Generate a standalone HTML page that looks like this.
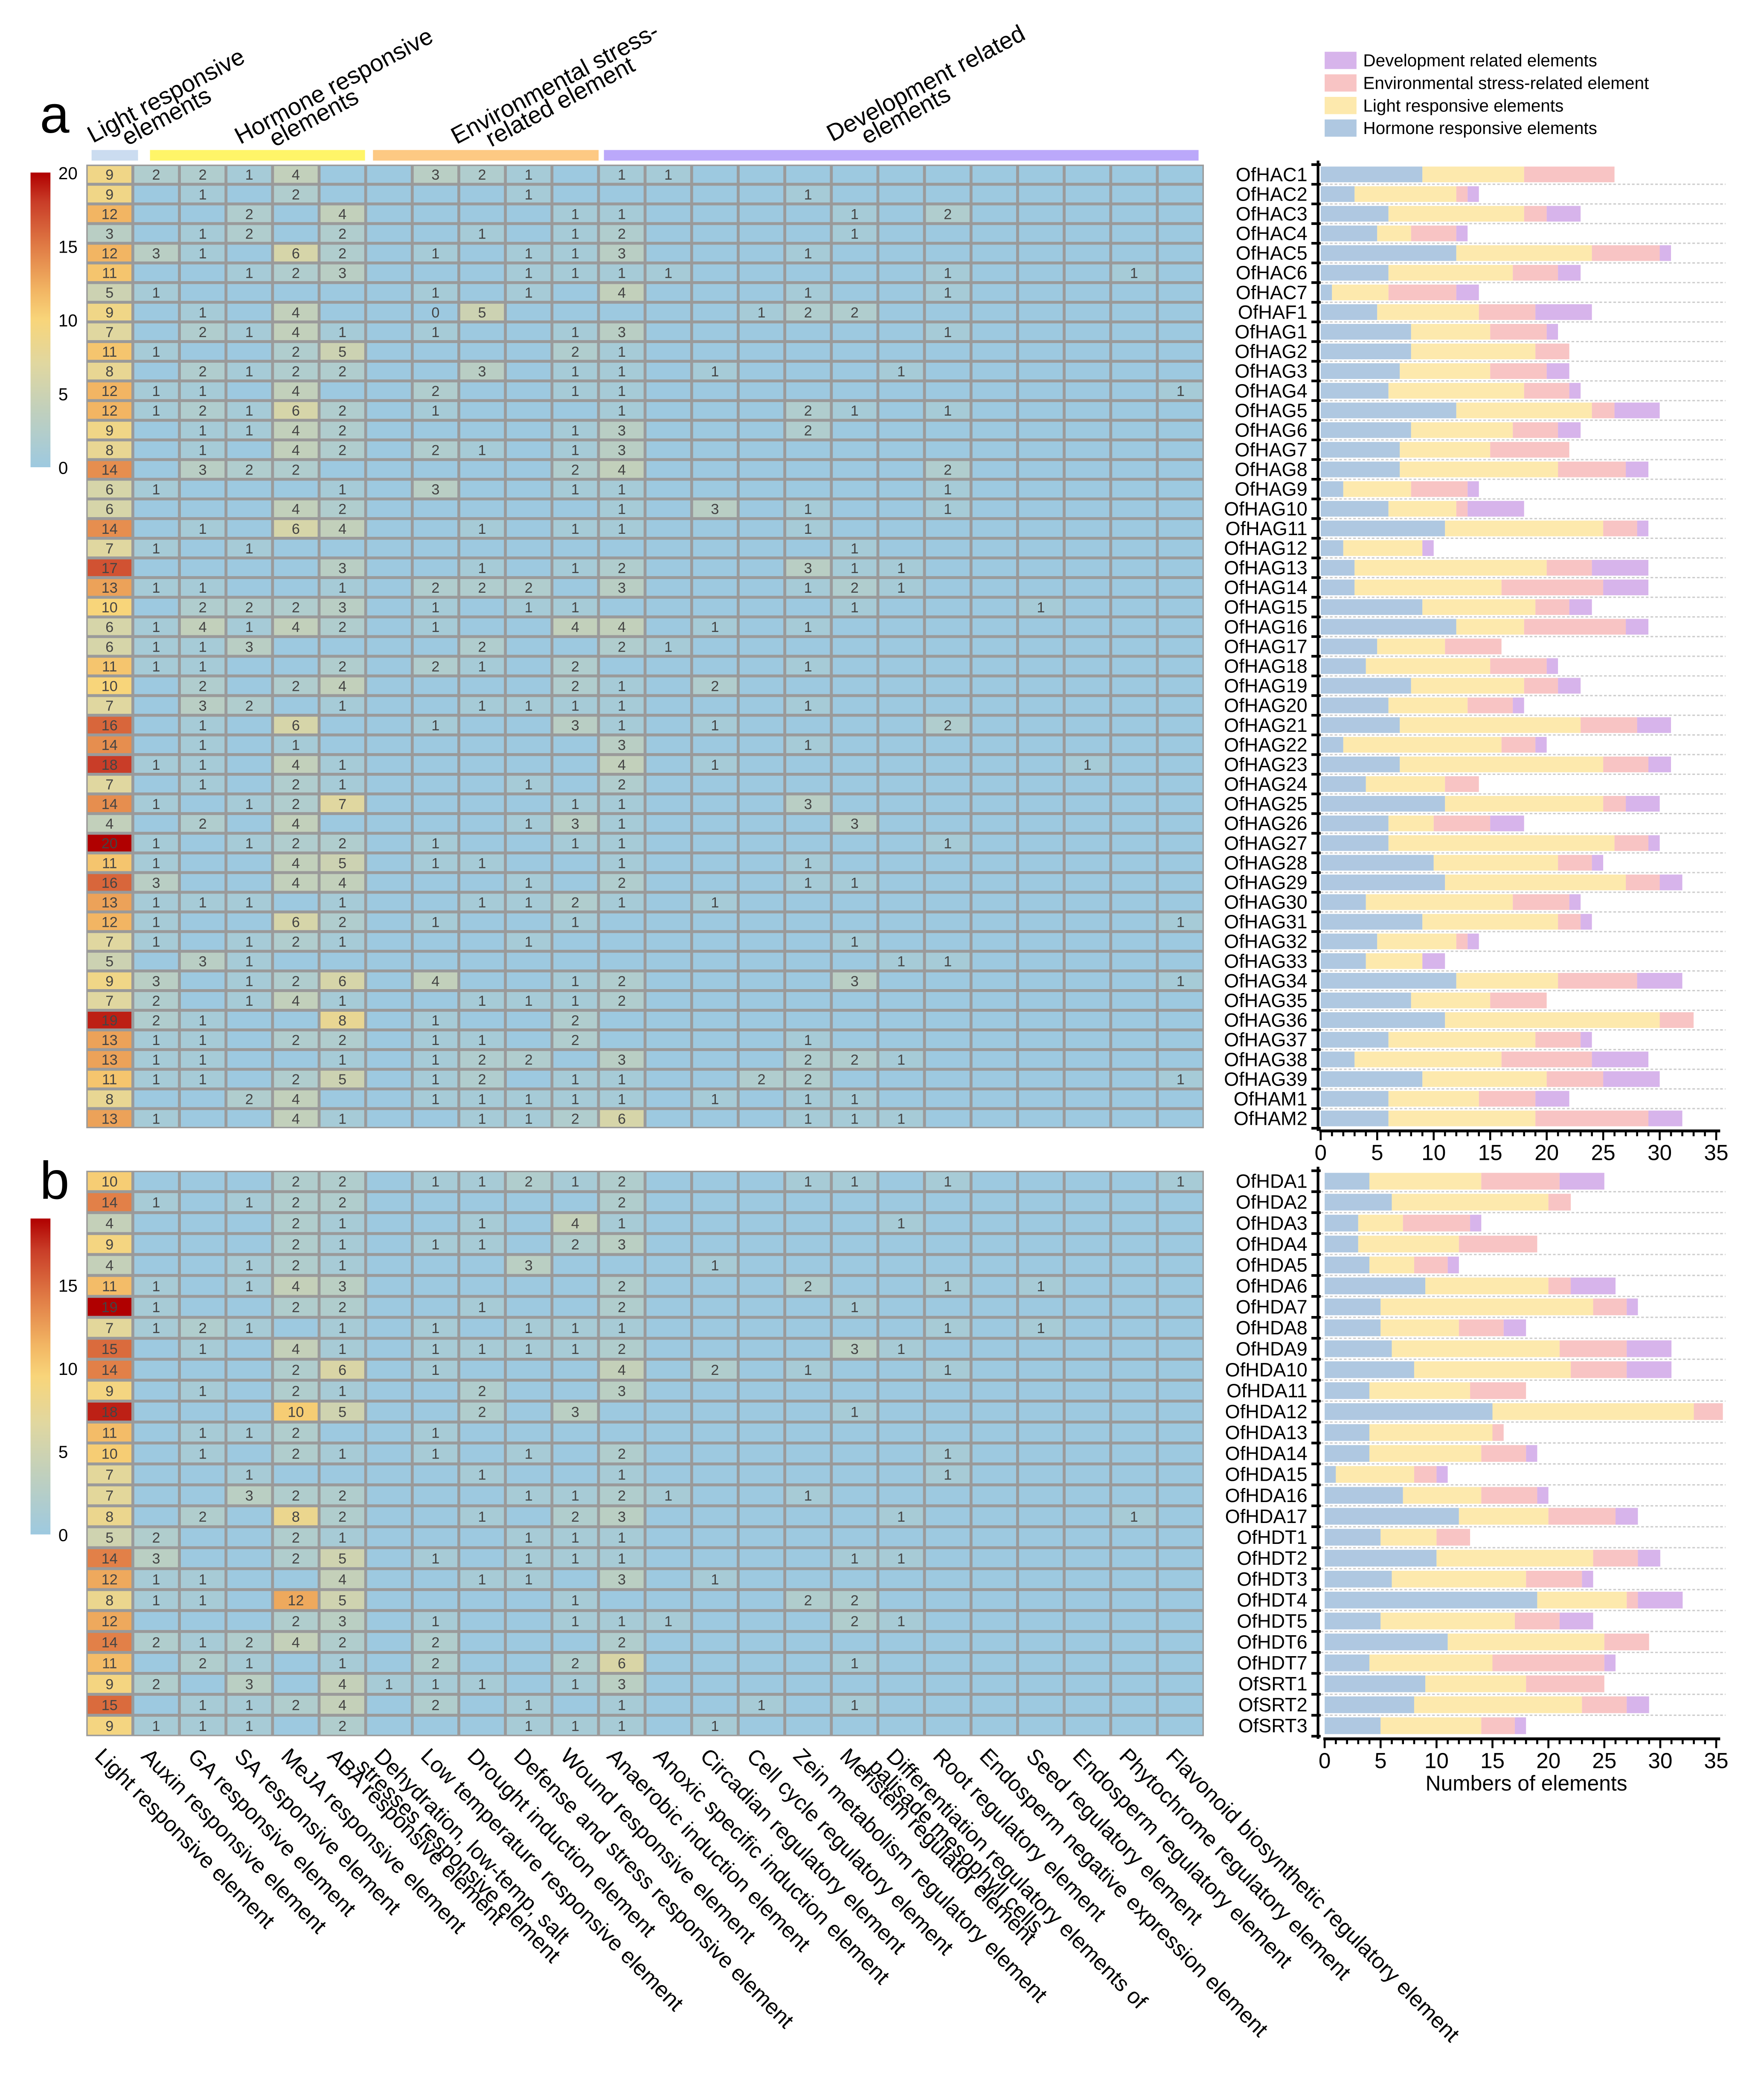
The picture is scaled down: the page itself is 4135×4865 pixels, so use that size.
<!DOCTYPE html>
<html><head><meta charset="utf-8"><style>
html,body{margin:0;padding:0;background:#fff;}
svg{display:block;font-family:"Liberation Sans",sans-serif;}
</style></head><body>
<svg id="fig" xmlns="http://www.w3.org/2000/svg" width="4135" height="4865" viewBox="0 0 1329 1564" preserveAspectRatio="none">
<defs>
<linearGradient id="cbar" x1="0" y1="1" x2="0" y2="0">
<stop offset="0" stop-color="#9dc9e0"/><stop offset="0.2" stop-color="#c2d0bb"/><stop offset="0.35" stop-color="#e0d7a0"/><stop offset="0.5" stop-color="#f8d57a"/><stop offset="0.6" stop-color="#f2b563"/><stop offset="0.75" stop-color="#e07b45"/><stop offset="0.9" stop-color="#c93d28"/><stop offset="1" stop-color="#b00000"/>
</linearGradient>
</defs>
<g id="root"></g>
</svg>
<script>
const columns=["Light responsive element","Auxin responsive element","GA responsive element","SA responsive element","MeJA responsive element","ABA responsive element","Dehydration, low-temp, salt|stresses responsive element","Low temperature responsive element","Drought induction element","Defense and stress responsive element","Wound responsive element","Anaerobic induction element","Anoxic specific induction element","Circadian regulatory element","Cell cycle regulatory element","Zein metabolism regulatory element","Meristem regulator element","Differentiation regulatory elements of|palisade mesophyll cells","Root regulatory element","Endosperm negative expression element","Seed regulatory element","Endosperm regulatory element","Phytochrome  regulatory element","Flavonoid biosynthetic regulatory element"];
const groupOf=[0,1,1,1,1,1,2,2,2,2,2,2,2,3,3,3,3,3,3,3,3,3,3,3];
const genesA=["OfHAC1","OfHAC2","OfHAC3","OfHAC4","OfHAC5","OfHAC6","OfHAC7","OfHAF1","OfHAG1","OfHAG2","OfHAG3","OfHAG4","OfHAG5","OfHAG6","OfHAG7","OfHAG8","OfHAG9","OfHAG10","OfHAG11","OfHAG12","OfHAG13","OfHAG14","OfHAG15","OfHAG16","OfHAG17","OfHAG18","OfHAG19","OfHAG20","OfHAG21","OfHAG22","OfHAG23","OfHAG24","OfHAG25","OfHAG26","OfHAG27","OfHAG28","OfHAG29","OfHAG30","OfHAG31","OfHAG32","OfHAG33","OfHAG34","OfHAG35","OfHAG36","OfHAG37","OfHAG38","OfHAG39","OfHAM1","OfHAM2"];
const rowsA=["0:9,1:2,2:2,3:1,4:4,7:3,8:2,9:1,11:1,12:1","0:9,2:1,4:2,9:1,15:1","0:12,3:2,5:4,10:1,11:1,16:1,18:2","0:3,2:1,3:2,5:2,8:1,10:1,11:2,16:1","0:12,1:3,2:1,4:6,5:2,7:1,9:1,10:1,11:3,15:1","0:11,3:1,4:2,5:3,9:1,10:1,11:1,12:1,18:1,22:1","0:5,1:1,7:1,9:1,11:4,15:1,18:1","0:9,2:1,4:4,7:0,8:5,14:1,15:2,16:2","0:7,2:2,3:1,4:4,5:1,7:1,10:1,11:3,18:1","0:11,1:1,4:2,5:5,10:2,11:1","0:8,2:2,3:1,4:2,5:2,8:3,10:1,11:1,13:1,17:1","0:12,1:1,2:1,4:4,7:2,10:1,11:1,23:1","0:12,1:1,2:2,3:1,4:6,5:2,7:1,11:1,15:2,16:1,18:1","0:9,2:1,3:1,4:4,5:2,10:1,11:3,15:2","0:8,2:1,4:4,5:2,7:2,8:1,10:1,11:3","0:14,2:3,3:2,4:2,10:2,11:4,18:2","0:6,1:1,5:1,7:3,10:1,11:1,18:1","0:6,4:4,5:2,11:1,13:3,15:1,18:1","0:14,2:1,4:6,5:4,8:1,10:1,11:1,15:1","0:7,1:1,3:1,16:1","0:17,5:3,8:1,10:1,11:2,15:3,16:1,17:1","0:13,1:1,2:1,5:1,7:2,8:2,9:2,11:3,15:1,16:2,17:1","0:10,2:2,3:2,4:2,5:3,7:1,9:1,10:1,16:1,20:1","0:6,1:1,2:4,3:1,4:4,5:2,7:1,10:4,11:4,13:1,15:1","0:6,1:1,2:1,3:3,8:2,11:2,12:1","0:11,1:1,2:1,5:2,7:2,8:1,10:2,15:1","0:10,2:2,4:2,5:4,10:2,11:1,13:2","0:7,2:3,3:2,5:1,8:1,9:1,10:1,11:1,15:1","0:16,2:1,4:6,7:1,10:3,11:1,13:1,18:2","0:14,2:1,4:1,11:3,15:1","0:18,1:1,2:1,4:4,5:1,11:4,13:1,21:1","0:7,2:1,4:2,5:1,9:1,11:2","0:14,1:1,3:1,4:2,5:7,10:1,11:1,15:3","0:4,2:2,4:4,9:1,10:3,11:1,16:3","0:20,1:1,3:1,4:2,5:2,7:1,10:1,11:1,18:1","0:11,1:1,4:4,5:5,7:1,8:1,11:1,15:1","0:16,1:3,4:4,5:4,9:1,11:2,15:1,16:1","0:13,1:1,2:1,3:1,5:1,8:1,9:1,10:2,11:1,13:1","0:12,1:1,4:6,5:2,7:1,10:1,23:1","0:7,1:1,3:1,4:2,5:1,9:1,16:1","0:5,2:3,3:1,17:1,18:1","0:9,1:3,3:1,4:2,5:6,7:4,10:1,11:2,16:3,23:1","0:7,1:2,3:1,4:4,5:1,8:1,9:1,10:1,11:2","0:19,1:2,2:1,5:8,7:1,10:2","0:13,1:1,2:1,4:2,5:2,7:1,8:1,10:2,15:1","0:13,1:1,2:1,5:1,7:1,8:2,9:2,11:3,15:2,16:2,17:1","0:11,1:1,2:1,4:2,5:5,7:1,8:2,10:1,11:1,14:2,15:2,23:1","0:8,3:2,4:4,7:1,8:1,9:1,10:1,11:1,13:1,15:1,16:1","0:13,1:1,4:4,5:1,8:1,9:1,10:2,11:6,15:1,16:1,17:1"];
const genesB=["OfHDA1","OfHDA2","OfHDA3","OfHDA4","OfHDA5","OfHDA6","OfHDA7","OfHDA8","OfHDA9","OfHDA10","OfHDA11","OfHDA12","OfHDA13","OfHDA14","OfHDA15","OfHDA16","OfHDA17","OfHDT1","OfHDT2","OfHDT3","OfHDT4","OfHDT5","OfHDT6","OfHDT7","OfSRT1","OfSRT2","OfSRT3"];
const rowsB=["0:10,4:2,5:2,7:1,8:1,9:2,10:1,11:2,15:1,16:1,18:1,23:1","0:14,1:1,3:1,4:2,5:2,11:2","0:4,4:2,5:1,8:1,10:4,11:1,17:1","0:9,4:2,5:1,7:1,8:1,10:2,11:3","0:4,3:1,4:2,5:1,9:3,13:1","0:11,1:1,3:1,4:4,5:3,11:2,15:2,18:1,20:1","0:19,1:1,4:2,5:2,8:1,11:2,16:1","0:7,1:1,2:2,3:1,5:1,7:1,9:1,10:1,11:1,18:1,20:1","0:15,2:1,4:4,5:1,7:1,8:1,9:1,10:1,11:2,16:3,17:1","0:14,4:2,5:6,7:1,11:4,13:2,15:1,18:1","0:9,2:1,4:2,5:1,8:2,11:3","0:18,4:10,5:5,8:2,10:3,16:1","0:11,2:1,3:1,4:2,7:1","0:10,2:1,4:2,5:1,7:1,9:1,11:2,18:1","0:7,3:1,8:1,11:1,18:1","0:7,3:3,4:2,5:2,9:1,10:1,11:2,12:1,15:1","0:8,2:2,4:8,5:2,8:1,10:2,11:3,17:1,22:1","0:5,1:2,4:2,5:1,9:1,10:1,11:1","0:14,1:3,4:2,5:5,7:1,9:1,10:1,11:1,16:1,17:1","0:12,1:1,2:1,5:4,8:1,9:1,11:3,13:1","0:8,1:1,2:1,4:12,5:5,10:1,15:2,16:2","0:12,4:2,5:3,7:1,10:1,11:1,12:1,16:2,17:1","0:14,1:2,2:1,3:2,4:4,5:2,7:2,11:2","0:11,2:2,3:1,5:1,7:2,10:2,11:6,16:1","0:9,1:2,3:3,5:4,6:1,7:1,8:1,10:1,11:3","0:15,2:1,3:1,4:2,5:4,7:2,9:1,11:1,14:1,16:1","0:9,1:1,2:1,3:1,5:2,9:1,10:1,11:1,13:1"];
const xTicks=[0,5,10,15,20,25,30,35];
const cbTicksA=[0,5,10,15,20];
const cbTicksB=[0,5,10,15];
const barColors=["#fde9ad","#afc8e1","#f8c4c4","#d7b4eb"]; // light, hormone, env, dev
const legendLabels=["Development related elements","Environmental stress-related element","Light responsive elements","Hormone responsive elements"];

const NS="http://www.w3.org/2000/svg";
const root=document.getElementById('root');
function mk(tag,attrs,parent,text){const e=document.createElementNS(NS,tag);for(const k in attrs)e.setAttribute(k,attrs[k]);if(text!==undefined)e.textContent=text;(parent||root).appendChild(e);return e;}
function parse(s){const v=new Array(24).fill(null);s.split(',').forEach(p=>{const [c,x]=p.split(':');v[+c]=+x;});return v;}
const stops=[[0,[157,201,224]],[0.2,[194,208,187]],[0.35,[224,215,160]],[0.5,[248,213,122]],[0.6,[242,181,99]],[0.75,[224,123,69]],[0.9,[201,61,40]],[1,[176,0,0]]];
function color(t){t=Math.max(0,Math.min(1,t));for(let i=1;i<stops.length;i++){if(t<=stops[i][0]){const a=stops[i-1],b=stops[i];const f=(t-a[0])/(b[0]-a[0]);const c=a[1].map((v,k)=>Math.round(v+(b[1][k]-v)*f));return `rgb(${c})`;}}return 'rgb(176,0,0)';}

const hmX0=65,hmX1=907,colW=(hmX1-hmX0)/24;
const xCol=i=>hmX0+colW*i;

function panel(genes,rows,y0,y1,vmax,ax0,ax1,cbTop,cbBot,cbTicks,cbMax,label,labelY,axisY,pname){
  const rh=(y1-y0)/genes.length;
  const g=mk('g',{});
  
  
  mk('text',{x:30,y:labelY,'font-size':40,fill:'#000'},g,label);
  const hm=mk('g',{},g);
  
  
  mk('rect',{x:hmX0,y:y0,width:hmX1-hmX0,height:y1-y0,fill:'#9a9a9a'},hm);
  const yRow=i=>y0+rh*i;
  rows.forEach((rs,r)=>{
    const v=parse(rs);
    for(let c=0;c<24;c++){
      const val=v[c]===null?0:v[c];
      const cell=mk('rect',{x:xCol(c)+1.1,y:yRow(r)+1.1,width:colW-2.2,height:rh-2.2,fill:color(val/vmax)},hm);
      
      
      if(v[c]!==null){
        const t=mk('text',{x:xCol(c)+colW/2,y:yRow(r)+rh/2+4,'font-size':11,'text-anchor':'middle',fill:'#444'},hm,String(v[c]));
        
        
      }
    }
  });
  const cb=mk('g',{},g);
  
  
  mk('rect',{x:23,y:cbTop,width:15,height:cbBot-cbTop,fill:'url(#cbar)'},cb);
  cbTicks.forEach(t=>{const yy=cbBot-(cbBot-cbTop)*t/cbMax;const tx=mk('text',{x:44,y:yy+5,'font-size':13,fill:'#000'},cb,String(t));});
  const bx=v=>ax0+(ax1-ax0)*v/35;
  const bars=mk('g',{},g);
  
  
  mk('line',{x1:993,y1:y0-3,x2:993,y2:axisY,stroke:'#000','stroke-width':2},bars);
  rows.forEach((rs,r)=>{
    const v=parse(rs);const sums=[0,0,0,0];
    v.forEach((x,c)=>{if(x)sums[groupOf[c]]+=x;});
    const order=[1,0,2,3];let acc=0;
    const yc=yRow(r)+rh/2;
    if(r>0){mk('line',{x1:995,y1:yRow(r),x2:1300,y2:yRow(r),stroke:'#ccc','stroke-width':1,'stroke-dasharray':'2,1.5'},bars);}
    mk('line',{x1:988,y1:yRow(r),x2:995,y2:yRow(r),stroke:'#000','stroke-width':2},bars);
    order.forEach(k=>{if(sums[k]>0){const w=Math.min(bx(acc+sums[k]),1298)-bx(acc);const b=mk('rect',{x:bx(acc),y:yc-rh*0.4,width:Math.max(0,w),height:rh*0.8,fill:barColors[k]},bars);}acc+=sums[k];});
    const gl=mk('text',{x:985,y:yc+5,'font-size':14.5,'text-anchor':'end',fill:'#000'},bars,genes[r]);
    
    
  });
  mk('line',{x1:988,y1:y1,x2:995,y2:y1,stroke:'#000','stroke-width':2},bars);
  const ax=mk('g',{},g);
  
  
  mk('line',{x1:ax0-1,y1:axisY,x2:ax1+3,y2:axisY,stroke:'#000','stroke-width':2.2},ax);
  for(let t=0;t<=35;t++){mk('line',{x1:bx(t),y1:axisY,x2:bx(t),y2:axisY+(t%5===0?7:4),stroke:'#000','stroke-width':1.5},ax);}
  xTicks.forEach(t=>{const tx=mk('text',{x:bx(t),y:axisY+22,'font-size':16.5,'text-anchor':'middle',fill:'#000'},ax,String(t));});
}
panel(genesA,rowsA,124,850,20,995,1293,130,352,cbTicksA,20,'a',100,852,'a');
panel(genesB,rowsB,882,1308,19,998,1293,918,1156,cbTicksB,19,'b',903,1310,'b');

const title=mk('text',{x:1150,y:1349,'font-size':16,'text-anchor':'middle',fill:'#000'},root,'Numbers of elements');



const groupBars=[[69,104,'#cbdcf0','light-group-bar'],[113,275,'#fff568','hormone-group-bar'],[281,451,'#fdc983','environment-group-bar'],[455,903,'#bba8fa','development-group-bar']];
groupBars.forEach(b=>{const r=mk('rect',{x:b[0],y:113,width:b[1]-b[0],height:8,fill:b[2]});});
const groupTitles=[[70,108,'Light responsive','elements'],[181,109,'Hormone responsive','elements'],[344,109,'Environmental stress-','related element'],[627,107,'Development related','elements']];
groupTitles.forEach(t=>{const tx=mk('text',{transform:`translate(${t[0]},${t[1]}) rotate(-28)`,'font-size':18,fill:'#000'});mk('tspan',{x:0,y:0},tx,t[2]);mk('tspan',{x:22,y:14},tx,t[3]);});

const leg=mk('g',{});


const legCols=[barColors[3],barColors[2],barColors[0],barColors[1]];
legendLabels.forEach((l,i)=>{const y=39+i*17;mk('rect',{x:998,y:y,width:24,height:13,fill:legCols[i]},leg);const tx=mk('text',{x:1027,y:y+11,'font-size':13,fill:'#000'},leg,l);});

columns.forEach((c,i)=>{const x=xCol(i)+colW/2-12;const tx=mk('text',{transform:`translate(${x},1324) rotate(45)`,'font-size':16.5,fill:'#000'});const parts=c.split('|');mk('tspan',{x:0,y:0},tx,parts[0]);if(parts[1])mk('tspan',{x:-4,y:15},tx,parts[1]);});
</script>
</body></html>
